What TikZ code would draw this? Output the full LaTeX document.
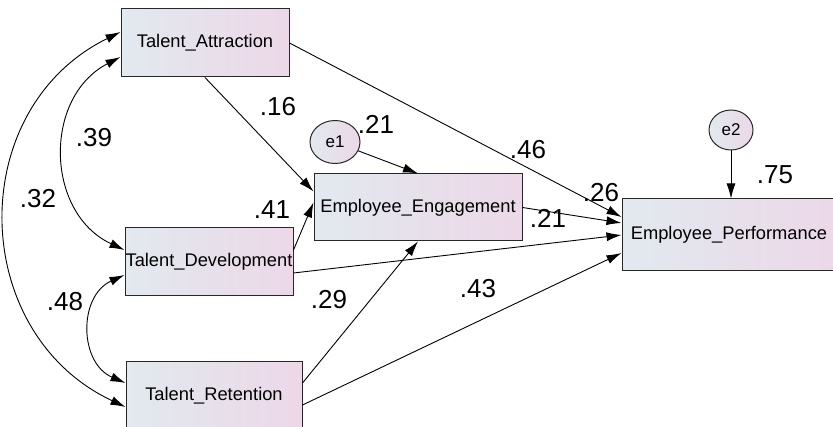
\documentclass[tikz,border=0pt]{standalone}
\usepackage{fontspec}
\setmainfont{Liberation Sans}
\usetikzlibrary{arrows.meta,shapes.geometric,calc}
\definecolor{boxL}{RGB}{226,233,239}
\definecolor{boxR}{RGB}{236,216,232}
\definecolor{edge}{RGB}{40,40,40}
\begin{document}
\begin{tikzpicture}[x=1pt,y=-1pt,
 var/.style={draw=edge, line width=1pt, left color=boxL, right color=boxR, font=\fontsize{18.3}{20}\selectfont, inner sep=0pt, minimum height=68pt},
 err/.style={ellipse, draw=edge, line width=1pt, left color=boxL, right color=boxR, font=\fontsize{17}{19}\selectfont, inner sep=0pt, minimum width=50pt, minimum height=43pt},
 reg/.style={line width=0.9pt, -{Latex[length=15pt,width=9pt]}},
 cov/.style={line width=0.9pt, {Latex[length=15pt,width=9pt]}-{Latex[length=15pt,width=9pt]}},
 lab/.style={font=\fontsize{26}{28}\selectfont, inner sep=0pt}]
\useasboundingbox (0,0) rectangle (833,427);
\clip (0,0) rectangle (833,427);
\fill[white] (0,0) rectangle (833,427);
% nodes
\node[var, minimum width=168pt] (TA) at (205,43) {Talent\_Attraction};
\node[var, minimum width=168pt] (TD) at (209,262) {Talent\_Development};
\node[var, minimum width=176pt] (TR) at (214,396) {Talent\_Retention};
\node[var, minimum width=208pt, minimum height=67pt] (EE) at (418,207.5) {Employee\_Engagement};
\node[var, minimum width=214pt, minimum height=72pt] (EP) at (729,235) {Employee\_Performance};
\node[err] (e1) at (335,142) {e1};
\node[err, minimum width=44pt, minimum height=40pt] (e2) at (731,130) {e2};
% regressions
\draw[reg] (TA.south) -- ([yshift=16pt]EE.west);
\draw[reg] (TA.east) -- ([yshift=18pt]EP.west);
\draw[reg] (e1) -- (EE.north);
\draw[reg] ([yshift=12pt]TD.east) -- ([yshift=5pt]EE.west);
\draw[reg] (EE.east) -- ([yshift=12pt]EP.west);
\draw[reg] ([yshift=-11pt]TD.east) -- (EP.west);
\draw[reg] ([yshift=13pt]TR.east) -- (EE.south);
\draw[reg] ([yshift=-9pt]TR.east) -- ([yshift=-18pt]EP.west);
\draw[reg] (e2) -- (e2 |- EP.north);
% covariances
\draw[cov] ([yshift=-14pt]TA.west) .. controls (43,97) and (45,213) .. ([yshift=12pt]TD.west);
\draw[cov] ([yshift=11pt]TA.west) .. controls (-36,109) and (-32,333) .. ([yshift=-11pt]TR.west);
\draw[cov] ([yshift=-13pt]TD.west) .. controls (78,296) and (79,363) .. ([yshift=13pt]TR.west);
% labels
\node[lab] (l16) at (278,107) {.16};
\node[lab] (l39) at (94,138) {.39};
\node[lab] (l32) at (38,199) {.32};
\node[lab] (l41) at (272,210) {.41};
\node[lab] (l48) at (65,302) {.48};
\node[lab] (l29) at (329,300) {.29};
\node[lab] (l43) at (478,289) {.43};
\node[lab] (l21a) at (376,124) {.21};
\node[lab] (l46) at (528,150) {.46};
\node[lab] (l21b) at (548,218) {.21};
\node[lab] (l26) at (601,193) {.26};
\node[lab] (l75) at (775,175) {.75};
\end{tikzpicture}
\end{document}
